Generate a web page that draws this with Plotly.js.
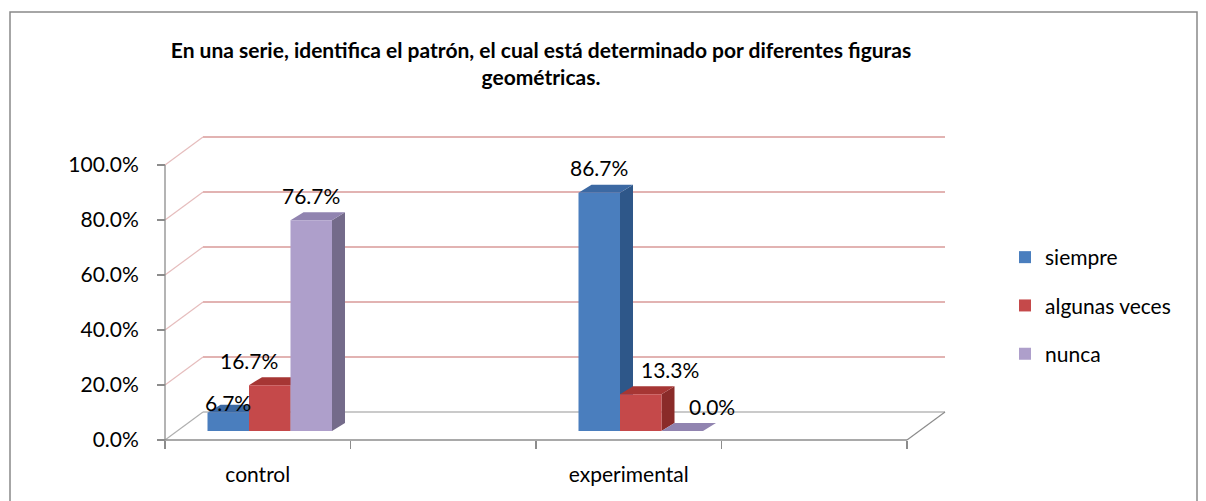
<!DOCTYPE html>
<html>
<head>
<meta charset="utf-8">
<script src="https://cdn.plot.ly/plotly-3.0.1.min.js"></script>
<style>
html,body{margin:0;padding:0;background:#ffffff;}
#chart{width:1206px;height:501px;}
</style>
</head>
<body>
<div id="chart"></div>
<script>
// ---------------- data ----------------
const categories = ['control', 'experimental'];
const seriesNames = ['siempre', 'algunas veces', 'nunca'];
const siempre = [0.0667, 0.8667];
const algunasVeces = [0.1667, 0.1333];
const nunca = [0.7667, 0.0];
const yTickVals = [0, 0.2, 0.4, 0.6, 0.8, 1.0];
const yTickText = ['0.0%', '20.0%', '40.0%', '60.0%', '80.0%', '100.0%'];
const titleText = 'En una serie, identifica el patrón, el cual está determinado por diferentes figuras<br>geométricas.';

// ---------------- style ----------------
const seriesValues = [siempre, algunasVeces, nunca];
const frontColors = ['#4A7EBE', '#C5494A', '#AE9FCB'];
const topColors   = ['#3C69A3', '#A63634', '#9184B0'];
const sideColors  = ['#2E5789', '#8A2B29', '#746B8A'];
// label nudges [dx, dy] in px (to mimic the reference label placement)
const labelNudge = [
  [[0, 15], [0, 0]],
  [[-21, 0], [29, 0]],
  [[0, 0], [30, 0]]
];
const FONT = 'Lato, "Open Sans", sans-serif';
const FS = 21;
const gridColor = '#D99A99';
const axisColor = '#8C8C8C';

// pixel geometry of the pseudo-3D frame
const W = 1206, H = 501;
const plotL = 150, plotR = 960, plotT = 125, plotB = 455;
const frontX0 = 165, slotPx = 185.5, zeroPy = 440, unitPy = 275;
const depthPx = [38, -28];          // wall depth
const barShiftPx = [12, -9];        // bar front plane inside the depth
const barDepthPx = [13, -8];        // bar own depth
const barWidthPx = 41.5;
const slotsPerCategory = 2;

const ux = 1 / slotPx, uy = 1 / unitPy;
const xRange = [-0.5 - (frontX0 - plotL) * ux, -0.5 + (plotR - frontX0) * ux];
const yRange = [-(plotB - zeroPy) * uy, (zeroPy - plotT) * uy];
const dX = depthPx[0] * ux, dY = -depthPx[1] * uy;
const sX = barShiftPx[0] * ux, sY = -barShiftPx[1] * uy;
const bX = barDepthPx[0] * ux, bY = -barDepthPx[1] * uy;
const bw = barWidthPx * ux;
const nSlots = categories.length * slotsPerCategory;
const floorL = -0.5, floorR = -0.5 + nSlots;
const px2paperX = p => (p - plotL) / (plotR - plotL);
const px2paperY = p => (plotB - p) / (plotB - plotT);

const catPos = categories.map((c, i) => i * slotsPerCategory);

// ---------------- traces ----------------
const traces = seriesNames.map((name, j) => ({
  type: 'bar',
  name: name,
  legendgroup: 'g' + j,
  x: catPos.map(p => p + sX + (j - 1) * bw),
  y: seriesValues[j],
  base: seriesValues[j].map(() => sY),
  width: bw,
  marker: {color: frontColors[j], line: {width: 0}},
  hoverinfo: 'skip'
}));

// ---------------- shapes ----------------
const shapes = [];
const line = (x0, y0, x1, y1, color, width) => ({
  type: 'line', xref: 'x', yref: 'y', x0, y0, x1, y1, layer: 'below',
  line: {color: color, width: width || 1}
});
// outer chart border
shapes.push({type: 'rect', xref: 'paper', yref: 'paper',
  x0: px2paperX(10), x1: px2paperX(1197), y0: px2paperY(512), y1: px2paperY(12),
  line: {color: '#898989', width: 1.5}, fillcolor: 'rgba(0,0,0,0)', layer: 'below'});
// back wall gridlines + left wall diagonals
yTickVals.forEach(t => {
  shapes.push(line(floorL + dX, t + dY, floorR + dX, t + dY, t === 0 ? '#B9B9B9' : gridColor, 1.3));
  shapes.push(line(floorL, t, floorL + dX, t + dY, t === 0 ? '#B0B0B0' : '#E6BDBD', 1.2));
});
// floor
shapes.push(line(floorL, 0, floorR, 0, axisColor, 1.3));
shapes.push(line(floorR, 0, floorR + dX, dY, axisColor, 1.2));
// y axis front line
shapes.push(line(floorL, 0, floorL, 1, axisColor, 1.3));
// bar top & side faces
categories.forEach((c, i) => {
  seriesNames.forEach((n, j) => {
    const v = seriesValues[j][i];
    const xc = catPos[i] + sX + (j - 1) * bw;
    const x0 = xc - bw / 2, x1 = xc + bw / 2;
    const b = sY, t = sY + v;
    shapes.push({type: 'path', xref: 'x', yref: 'y', layer: 'below',
      path: `M${x1},${b} L${x1},${t} L${x1 + bX},${t + bY} L${x1 + bX},${b + bY} Z`,
      fillcolor: sideColors[j], line: {width: 0}});
    shapes.push({type: 'path', xref: 'x', yref: 'y', layer: 'below',
      path: `M${x0},${t} L${x1},${t} L${x1 + bX},${t + bY} L${x0 + bX},${t + bY} Z`,
      fillcolor: topColors[j], line: {width: 0}});
  });
});

// ---------------- data labels ----------------
const annotations = [];
categories.forEach((c, i) => {
  seriesNames.forEach((n, j) => {
    const v = seriesValues[j][i];
    const nud = labelNudge[j][i];
    annotations.push({
      xref: 'x', yref: 'y',
      x: catPos[i] + sX + (j - 1) * bw,
      y: sY + v,
      text: (v * 100).toFixed(1) + '%',
      showarrow: false,
      xanchor: 'center', yanchor: 'middle',
      xshift: nud[0], yshift: 25 - nud[1],
      font: {family: FONT, size: FS, color: '#000'}
    });
  });
});

const layout = {
  width: W, height: H,
  paper_bgcolor: '#ffffff', plot_bgcolor: 'rgba(0,0,0,0)',
  margin: {l: plotL, r: W - plotR, t: plotT, b: H - plotB, pad: 0},
  barmode: 'overlay',
  title: {
    text: titleText,
    x: 541 / W, xref: 'container', xanchor: 'center',
    y: 1 - 58 / H, yref: 'container', yanchor: 'top',
    pad: {t: 0, b: 0, l: 0, r: 0},
    font: {family: FONT, size: 21, color: '#000', weight: 'bold'}
  },
  xaxis: {
    range: xRange, anchor: 'free', position: px2paperY(zeroPy),
    showgrid: false, zeroline: false, showline: false,
    tickmode: 'array', tickvals: catPos, ticktext: categories,
    ticks: 'outside', ticklen: 8, tickcolor: 'rgba(0,0,0,0)',
    ticklabelstandoff: 8,
    tickfont: {family: FONT, size: FS, color: '#000'},
    minor: {
      tickmode: 'array',
      tickvals: Array.from({length: nSlots + 1}, (_, k) => floorL + k),
      ticks: 'outside', ticklen: 8, tickcolor: axisColor, tickwidth: 1.3, showgrid: false
    },
    fixedrange: true
  },
  yaxis: {
    range: yRange, anchor: 'free', position: px2paperX(frontX0),
    showgrid: false, zeroline: false, showline: false,
    tickmode: 'array', tickvals: yTickVals, ticktext: yTickText,
    ticks: 'outside', ticklen: 8, tickcolor: axisColor, tickwidth: 1.3,
    ticklabelstandoff: 14,
    tickfont: {family: FONT, size: FS, color: '#000'},
    fixedrange: true
  },
  showlegend: true,
  legend: {
    x: px2paperX(1005), xanchor: 'left',
    y: px2paperY(237), yanchor: 'top',
    traceorder: 'grouped', tracegroupgap: 18,
    font: {family: FONT, size: FS, color: '#000'},
    bgcolor: 'rgba(0,0,0,0)', borderwidth: 0
  },
  shapes: shapes,
  annotations: annotations
};

Plotly.newPlot('chart', traces, layout, {staticPlot: true, displayModeBar: false});
</script>
</body>
</html>
